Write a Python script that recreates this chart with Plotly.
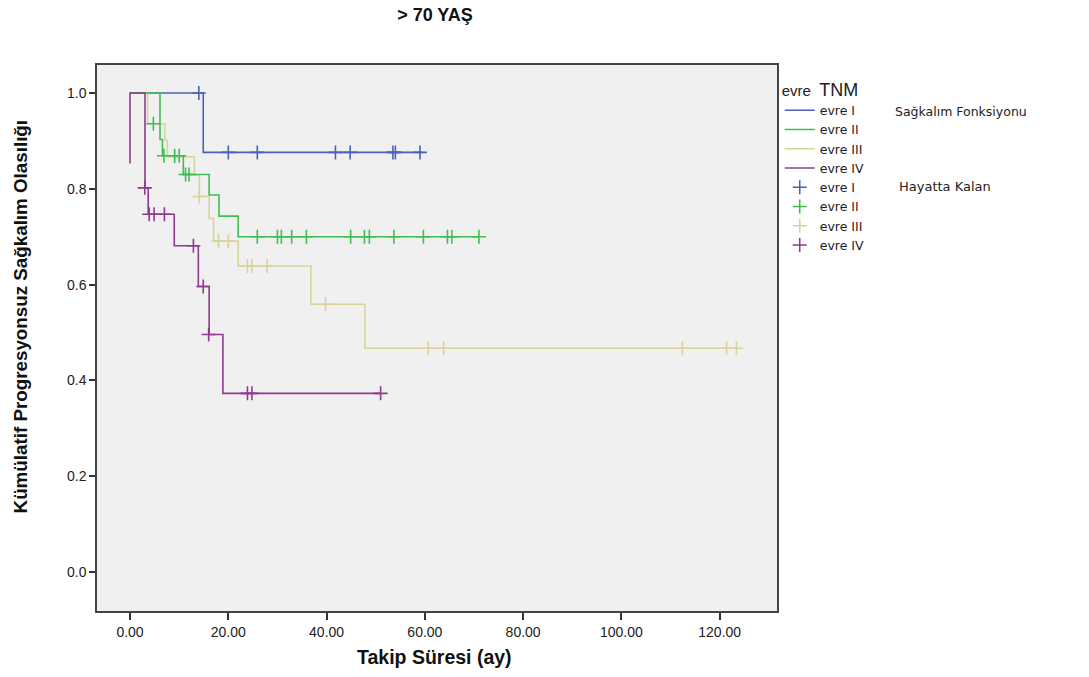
import plotly.graph_objects as go

# ---------------- data ----------------
groups = ["evre I", "evre II", "evre III", "evre IV"]

# step curve vertices (time, survival)
blue_t = [0.0, 14.9, 59.5]
blue_s = [1.0, 0.876, 0.876]
blue_cens_t = [14.0, 20.0, 25.9, 41.8, 44.8, 53.5, 54.0, 59.0]
blue_cens_s = [1.0, 0.876, 0.876, 0.876, 0.876, 0.876, 0.876, 0.876]

green_t = [0.0, 6.1, 6.6, 10.85, 16.1, 18.1, 22.0, 71.0]
green_s = [1.0, 0.903, 0.869, 0.830, 0.787, 0.743, 0.700, 0.700]
green_cens_t = [4.75, 6.9, 9.1, 10.0, 11.3, 12.0, 25.9, 30.0, 30.8, 32.9, 35.9,
                44.9, 47.7, 48.7, 53.7, 59.7, 64.6, 65.5, 71.0]
green_cens_s = [0.936, 0.869, 0.869, 0.869, 0.830, 0.830, 0.700, 0.700, 0.700, 0.700, 0.700,
                0.700, 0.700, 0.700, 0.700, 0.700, 0.700, 0.700, 0.700]

yellow_t = [0.0, 3.6, 7.1, 7.6, 13.1, 14.1, 16.1, 17.0, 22.0, 36.8, 47.8, 123.6]
yellow_s = [1.0, 0.936, 0.901, 0.867, 0.829, 0.784, 0.738, 0.691, 0.639, 0.559, 0.467, 0.467]
yellow_cens_t = [9.0, 14.1, 18.0, 20.0, 23.9, 24.8, 27.9, 39.8, 60.7, 63.8, 112.4, 121.4, 123.4]
yellow_cens_s = [0.867, 0.784, 0.691, 0.691, 0.639, 0.639, 0.639, 0.559, 0.467, 0.467, 0.467, 0.467, 0.467]

purple_t = [0.0, 0.0, 3.05, 3.7, 9.0, 13.9, 16.1, 18.9, 51.0]
purple_s = [0.853, 1.0, 0.802, 0.747, 0.681, 0.596, 0.496, 0.373, 0.373]
purple_cens_t = [3.0, 3.9, 4.9, 7.0, 12.9, 14.9, 16.0, 23.9, 24.8, 51.0]
purple_cens_s = [0.802, 0.747, 0.747, 0.747, 0.681, 0.596, 0.496, 0.373, 0.373, 0.373]

x_ticks = [0, 20, 40, 60, 80, 100, 120]
y_ticks = [0.0, 0.2, 0.4, 0.6, 0.8, 1.0]

colors = {"evre I": "#4a63b8", "evre II": "#3fbf52", "evre III": "#d8d39a", "evre IV": "#8e3b8e"}

curves = {
    "evre I": (blue_t, blue_s, blue_cens_t, blue_cens_s),
    "evre II": (green_t, green_s, green_cens_t, green_cens_s),
    "evre III": (yellow_t, yellow_s, yellow_cens_t, yellow_cens_s),
    "evre IV": (purple_t, purple_s, purple_cens_t, purple_cens_s),
}

draw_order = ["evre I", "evre III", "evre II", "evre IV"]

fig = go.Figure()
for g in draw_order:
    t, s, ct, cs = curves[g]
    rank = groups.index(g)
    fig.add_trace(go.Scatter(
        x=t, y=s, mode="lines", line=dict(color=colors[g], width=1.6, shape="hv"),
        name=g, legendrank=100 + rank, showlegend=True,
    ))
for g in draw_order:
    t, s, ct, cs = curves[g]
    rank = groups.index(g)
    fig.add_trace(go.Scatter(
        x=ct, y=cs, mode="markers",
        marker=dict(symbol="cross-thin", size=10, line=dict(color=colors[g], width=1.6)),
        name=g, legendrank=200 + rank, showlegend=True,
    ))

fig.update_layout(
    width=1089, height=677,
    margin=dict(l=97, r=312, t=65, b=66),
    paper_bgcolor="white",
    plot_bgcolor="#f0f0f0",
    font=dict(family="Liberation Sans, Arial, sans-serif", size=14, color="#222"),
    showlegend=True,
    legend=dict(
        x=1.004, y=0.9795, xanchor="left", yanchor="top",
        title=dict(text="evre  <span style='font-size:18px'>TNM</span>",
                   font=dict(family="Liberation Sans, Arial", size=15, color="#222")),
        font=dict(family="DejaVu Sans, Verdana, sans-serif", size=12.5, color="#222"),
        itemwidth=30, tracegroupgap=0, bgcolor="rgba(0,0,0,0)",
    ),
    title=dict(
        text="<b>&gt; 70 YAŞ</b>", x=0.497, xref="paper", xanchor="center",
        y=0.978, yref="container", yanchor="middle",
        font=dict(family="Liberation Sans Narrow, Arial Narrow, sans-serif", size=18, color="#111"),
    ),
    xaxis=dict(
        range=[-6.72, 131.66], tickvals=x_ticks, tickformat=".2f",
        showgrid=False, zeroline=False, ticks="outside", ticklen=7, tickwidth=1.5,
        tickcolor="#333", showline=True, linecolor="#444", linewidth=1.5, mirror=True,
        tickfont=dict(size=14, color="#222"),
    ),
    yaxis=dict(
        range=[-0.0814, 1.0585], tickvals=y_ticks, tickformat=".1f",
        showgrid=False, zeroline=False, ticks="outside", ticklen=6, tickwidth=1.5,
        tickcolor="#333", showline=True, linecolor="#444", linewidth=1.5, mirror=True,
        tickfont=dict(size=14, color="#222"),
    ),
    annotations=[
        dict(text="<b>Takip Süresi (ay)</b>", xref="paper", yref="paper", x=0.497, y=-0.084,
             xanchor="center", yanchor="middle", showarrow=False,
             font=dict(family="Liberation Sans Narrow, Arial Narrow, sans-serif", size=19.5, color="#111")),
        dict(text="<b>Kümülatif Progresyonsuz Sağkalım Olasılığı</b>", xref="paper", yref="paper",
             x=-0.113, y=0.538, xanchor="center", yanchor="middle", textangle=-90, showarrow=False,
             font=dict(family="Liberation Sans Narrow, Arial Narrow, sans-serif", size=18.8, color="#111")),
        dict(text="Sağkalım Fonksiyonu", xref="paper", yref="paper", x=1.1706, y=0.914,
             xanchor="left", yanchor="middle", showarrow=False,
             font=dict(family="DejaVu Sans, Verdana, sans-serif", size=12.5, color="#222")),
        dict(text="Hayatta Kalan", xref="paper", yref="paper", x=1.176, y=0.7766,
             xanchor="left", yanchor="middle", showarrow=False,
             font=dict(family="DejaVu Sans, Verdana, sans-serif", size=13, color="#222")),
    ],
)

fig.write_html("out.html")
